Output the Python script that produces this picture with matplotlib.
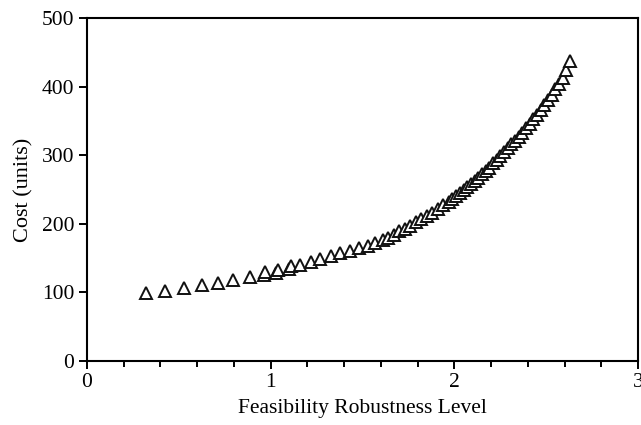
import matplotlib
matplotlib.use("Agg")
import matplotlib.pyplot as plt
from matplotlib.ticker import MultipleLocator

robustness = [0.32, 0.425, 0.528, 0.624, 0.711, 0.795, 0.887, 0.963, 0.97,
              1.03, 1.04, 1.10, 1.11, 1.16, 1.22, 1.27, 1.33, 1.38, 1.43,
              1.48, 1.53, 1.57, 1.61, 1.64, 1.67, 1.70, 1.73, 1.76, 1.79,
              1.82, 1.85, 1.88, 1.91, 1.94, 1.97, 1.99, 2.01, 2.03, 2.05,
              2.07, 2.09, 2.11, 2.13, 2.15, 2.17, 2.19, 2.21, 2.23, 2.25,
              2.27, 2.29, 2.31, 2.33, 2.35, 2.37, 2.39, 2.41, 2.43, 2.45,
              2.47, 2.49, 2.51, 2.53, 2.55, 2.57, 2.59, 2.61, 2.63]
cost = [98.7, 102.5, 106, 110.8, 114, 118, 122, 126, 130,
        129, 133, 134, 138, 140, 145, 149, 153, 157, 160,
        164, 168, 172, 176, 180, 184, 189, 193, 197, 202,
        207, 211, 216, 221, 227, 232, 236, 241, 245, 249,
        253, 258, 263, 267, 272, 277, 282, 288, 293, 299,
        304, 310, 316, 321, 327, 333, 340, 346, 353, 359,
        366, 373, 380, 388, 396, 404, 413, 424, 438]

xticks = [0, 1, 2, 3]
yticks = [0, 100, 200, 300, 400, 500]

plt.rcParams['font.family'] = ['Liberation Serif', 'DejaVu Serif']

fig = plt.figure(figsize=(6.41, 4.25), dpi=100)
ax = fig.add_axes([0.1357, 0.1506, 0.9953 - 0.1357, 0.9576 - 0.1506])

ax.plot(robustness, cost, linestyle='none', marker='^', markersize=9,
        markerfacecolor='white', markeredgecolor='#111111', markeredgewidth=1.4)

ax.set_xlim(0, 3)
ax.set_ylim(0, 500)
ax.set_xticks(xticks)
ax.set_yticks(yticks)
ax.xaxis.set_minor_locator(MultipleLocator(0.2))
ax.tick_params(axis='both', which='major', direction='out', length=6, width=1.4,
               labelsize=15.5, colors='black', pad=3)
ax.tick_params(axis='x', which='minor', direction='out', length=4, width=1.4)
ax.tick_params(axis='y', which='minor', left=False)
for s in ax.spines.values():
    s.set_linewidth(1.5)

ax.set_xlabel('Feasibility Robustness Level', fontsize=15.5, labelpad=5)
ax.set_ylabel('Cost (units)', fontsize=16, labelpad=6)

fig.savefig('out.png', dpi=100)
